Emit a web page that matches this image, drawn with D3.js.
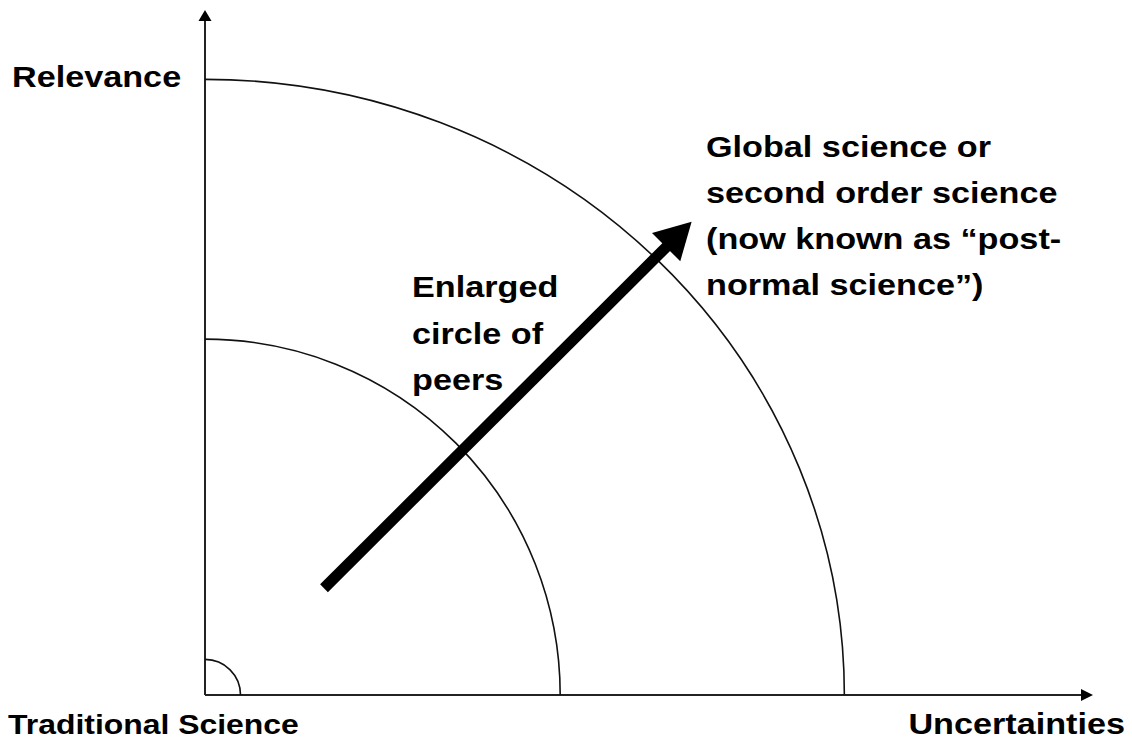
<!DOCTYPE html>
<html>
<head>
<meta charset="utf-8">
<script src="https://cdn.jsdelivr.net/npm/d3@7"></script>
<style>
  body { margin: 0; background: #fff; }
  text { font-family: "Liberation Sans", Arial, sans-serif; fill: #000; font-weight: bold; }
</style>
</head>
<body>
<div id="chart"></div>
<script>
// data
var axisMax = [25, 19.25];              // x (uncertainties), y (relevance)
var arcRadiusX = [1, 10, 18];           // quarter arcs, horizontal radius
var arcRadiusY = [1, 10, 17.3];         // quarter arcs, vertical radius
var arrowFrom = [3.35, 3.0];
var arrowTo = [13.7, 13.3];
var axisLabels = ["Relevance", "Traditional Science", "Uncertainties"];
var peersLines = ["Enlarged", "circle of", "peers"];
var globalLines = ["Global science or", "second order science", "(now known as \u201cpost-", "normal science\u201d)"];

var W = 1132, H = 742;
var margin = {top: 10, right: 39, bottom: 47, left: 205};

var svg = d3.select("#chart").append("svg")
    .attr("width", W)
    .attr("height", H);

var x = d3.scaleLinear().domain([0, axisMax[0]]).range([margin.left, W - margin.right]);
var y = d3.scaleLinear().domain([0, axisMax[1]]).range([H - margin.bottom, margin.top]);

// axes
svg.append("line")
    .attr("x1", x(0)).attr("y1", y(0))
    .attr("x2", x(axisMax[0]) - 8).attr("y2", y(0))
    .attr("stroke", "#222").attr("stroke-width", 2);
svg.append("path")
    .attr("d", "M" + x(axisMax[0]) + "," + y(0) + " l-12,-6 l0,12 z")
    .attr("fill", "#000");
svg.append("line")
    .attr("x1", x(0)).attr("y1", y(0))
    .attr("x2", x(0)).attr("y2", y(axisMax[1]) + 8)
    .attr("stroke", "#222").attr("stroke-width", 2);
svg.append("path")
    .attr("d", "M" + x(0) + "," + y(axisMax[1]) + " l-6.5,11 l13,0 z")
    .attr("fill", "#000");

// quarter arcs
svg.append("g").selectAll("path")
    .data(d3.range(arcRadiusX.length))
    .enter().append("path")
    .attr("d", function(i) {
        var rx = x(arcRadiusX[i]) - x(0), ry = y(0) - y(arcRadiusY[i]);
        return "M" + x(0) + "," + y(arcRadiusY[i]) +
            " A" + rx + "," + ry + " 0 0 1 " + x(arcRadiusX[i]) + "," + y(0);
    })
    .attr("fill", "none")
    .attr("stroke", "#111")
    .attr("stroke-width", 1.6);

// big arrow
var x0 = x(arrowFrom[0]), y0 = y(arrowFrom[1]);
var x1 = x(arrowTo[0]), y1 = y(arrowTo[1]);
var ang = Math.atan2(y1 - y0, x1 - x0);
var headLen = 36, headW = 20;
var bx = x1 - headLen * Math.cos(ang), by = y1 - headLen * Math.sin(ang);
svg.append("line")
    .attr("x1", x0).attr("y1", y0)
    .attr("x2", bx + 4 * Math.cos(ang)).attr("y2", by + 4 * Math.sin(ang))
    .attr("stroke", "#000").attr("stroke-width", 11);
svg.append("path")
    .attr("d", "M" + x1 + "," + y1 +
        " L" + (bx + headW * Math.sin(ang)) + "," + (by - headW * Math.cos(ang)) +
        " L" + (bx - headW * Math.sin(ang)) + "," + (by + headW * Math.cos(ang)) + " Z")
    .attr("fill", "#000");

// labels (the source text is stretched sideways)
function block(lines, left, top, step, size, anchor) {
    var g = svg.append("g");
    g.selectAll("text")
        .data(lines)
        .enter().append("text")
        .attr("transform", function(d, i) { return "translate(" + left + "," + (top + i * step) + ") scale(1.14,1)"; })
        .attr("text-anchor", anchor || "start")
        .attr("font-size", size)
        .text(function(d) { return d; });
}
block([axisLabels[0]], 12, 87, 0, 30);
block([axisLabels[1]], 8, 734, 0, 28);
block([axisLabels[2]], 1125, 734, 0, 30, "end");
block(peersLines, 412, 297, 46.5, 30);
block(globalLines, 706, 157, 46, 30);
</script>
</body>
</html>
